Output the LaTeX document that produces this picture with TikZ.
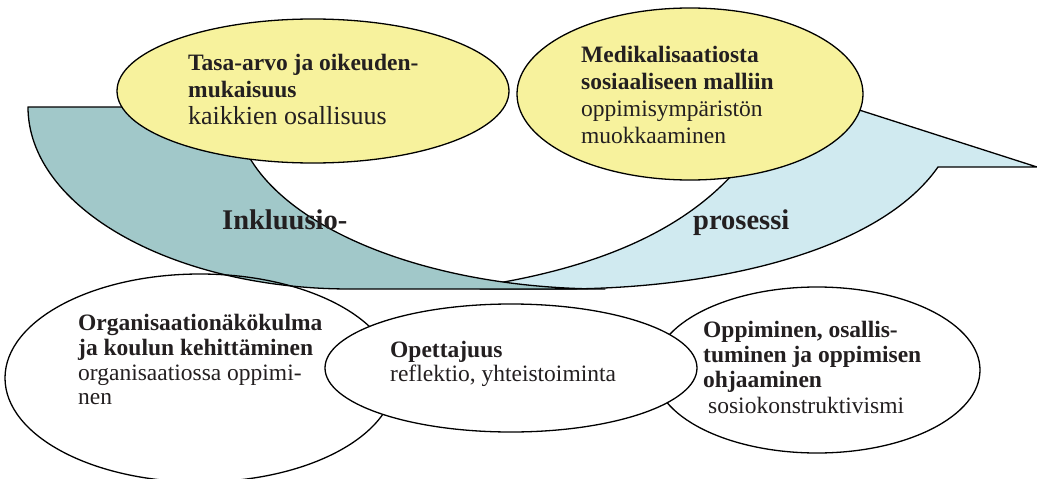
\documentclass[tikz,border=0pt]{standalone}
\usepackage{fontspec}
\setmainfont{Liberation Serif}
\usetikzlibrary{shapes.geometric}
\definecolor{tealband}{RGB}{161,200,201}
\definecolor{skyband}{RGB}{208,234,240}
\definecolor{lemon}{RGB}{247,242,157}
\definecolor{ink}{RGB}{35,31,32}
\begin{document}
\begin{tikzpicture}[x=1pt,y=-1pt,
  outline/.style={draw=black,line width=1.3pt,line join=round},
  oval/.style={ellipse,outline,inner sep=0pt},
  txt/.style={anchor=base west,inner sep=0pt,text=ink},
  bf/.style={txt,font=\fontsize{23.5}{27}\selectfont\bfseries},
  rm/.style={txt,font=\fontsize{23.5}{27}\selectfont},
  big/.style={txt,font=\fontsize{28.5}{32}\selectfont\bfseries}]
\useasboundingbox (0,0) rectangle (1037,479);

% light blue band, arrow head pointing right
\path[outline,fill=skyband]
  (480,286) .. controls (610,266) and (720,220) .. (770,120)
  -- (750,75) -- (1037,167) -- (938,167)
  .. controls (880,250) and (720,289) .. (560,289)
  -- (480,289) -- cycle;

% teal band on the left
\path[outline,fill=tealband]
  (28,107) -- (235,107)
  .. controls (235,207.5) and (400.6,289) .. (605,289)
  -- (350,289)
  .. controls (172.2,289) and (28,207.5) .. (28,107) -- cycle;

% upper ovals
\node[oval,fill=lemon,minimum width=392pt,minimum height=144pt] (equity) at (313,91) {};
\node[oval,fill=lemon,minimum width=346pt,minimum height=172pt] (social) at (690,94) {};

% lower ovals
\node[oval,minimum width=390pt,minimum height=208pt] (org) at (200,378) {};
\node[oval,minimum width=326pt,minimum height=166pt] (learn) at (817,370) {};
\node[oval,fill=white,minimum width=372pt,minimum height=128pt] (teach) at (511,368) {};

% band labels
\node[big] (inkl) at (222,229) {Inkluusio-};
\node[big] (pros) at (693,229) {prosessi};

% texts of the upper ovals
\node[bf] (eq1) at (188,70) {Tasa-arvo ja oikeuden-};
\node[bf] (eq2) at (188,97) {mukaisuus};
\node[rm,font=\fontsize{26}{27}\selectfont] (eq3) at (188,124) {kaikkien osallisuus};

\node[bf] (so1) at (581,62) {Medikalisaatiosta};
\node[bf] (so2) at (581,89) {sosiaaliseen malliin};
\node[rm] (so3) at (581,116) {oppimisympäristön};
\node[rm] (so4) at (581,143) {muokkaaminen};

% texts of the lower ovals
\node[bf] (or1) at (78,330) {Organisaationäkökulma};
\node[bf] (or2) at (78,355) {ja koulun kehittäminen};
\node[rm] (or3) at (78,380) {organisaatiossa oppimi-};
\node[rm] (or4) at (78,404) {nen};

\node[bf] (te1) at (390,357) {Opettajuus};
\node[rm] (te2) at (390,381) {reflektio, yhteistoiminta};

\node[bf] (le1) at (703,337) {Oppiminen, osallis-};
\node[bf] (le2) at (703,362) {tuminen ja oppimisen};
\node[bf] (le3) at (703,387) {ohjaaminen};
\node[rm] (le4) at (708,413) {sosiokonstruktivismi};
\end{tikzpicture}
\end{document}
